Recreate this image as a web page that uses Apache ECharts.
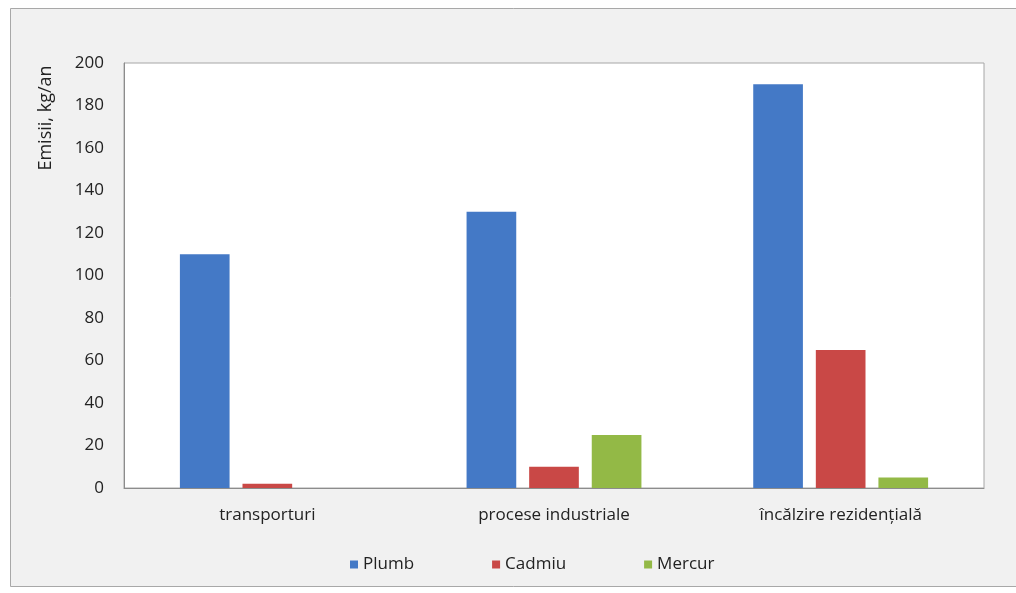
<!DOCTYPE html>
<html>
<head>
<meta charset="utf-8">
<script src="https://cdn.jsdelivr.net/npm/echarts@6/dist/echarts.min.js"></script>
<style>
html,body{margin:0;padding:0;background:#fff;}
#chart{width:1016px;height:593px;}
</style>
</head>
<body>
<div id="chart"></div>
<script>
const categories = ['transporturi', 'procese industriale', 'încălzire rezidențială'];
const seriesNames = ['Plumb', 'Cadmiu', 'Mercur'];
const plumb = [110, 130, 190];
const cadmiu = [2, 10, 65];
const mercur = [0, 25, 5];
const yTicks = [0, 20, 40, 60, 80, 100, 120, 140, 160, 180, 200];
const yAxisTitle = 'Emisii, kg/an';
const colors = ['#4479c6', '#c94846', '#93b946'];

const chart = echarts.init(document.getElementById('chart'), null, {renderer: 'canvas'});
const font = '"Open Sans", "Noto Sans", sans-serif';
const values = [plumb, cadmiu, mercur];

chart.setOption({
  animation: false,
  backgroundColor: '#ffffff',
  color: colors,
  textStyle: {fontFamily: font},
  graphic: [
    {
      type: 'rect', z: -10, silent: true,
      shape: {x: 10.5, y: 8.5, width: 1020, height: 578},
      style: {fill: '#f1f1f1', stroke: '#a8a8a8', lineWidth: 1}
    },
    {
      type: 'text', z: 10, silent: true,
      x: 46, y: 118, rotation: Math.PI / 2,
      style: {
        text: yAxisTitle, font: '18px ' + font, fill: '#222',
        textAlign: 'center', textVerticalAlign: 'middle'
      }
    }
  ],
  grid: {
    left: 124, right: 32, top: 63, bottom: 105,
    show: true, backgroundColor: '#ffffff',
    borderColor: '#a6a6a6', borderWidth: 1
  },
  legend: {
    data: seriesNames,
    left: 345, top: 551,
    itemWidth: 8, itemHeight: 8, itemGap: 78,
    icon: 'rect',
    textStyle: {fontSize: 17, color: '#222', fontFamily: font}
  },
  xAxis: {
    type: 'category',
    data: categories,
    axisLine: {show: true, lineStyle: {color: '#8c8c8c'}},
    axisTick: {show: false},
    axisLabel: {fontSize: 17, color: '#222', margin: 19, fontFamily: font}
  },
  yAxis: {
    type: 'value',
    min: yTicks[0], max: yTicks[yTicks.length - 1], interval: 20,
    axisLine: {show: true, lineStyle: {color: '#8c8c8c'}},
    axisTick: {show: false},
    splitLine: {show: false},
    axisLabel: {fontSize: 17, color: '#222', margin: 20, fontFamily: font}
  },
  series: seriesNames.map((name, i) => ({
    name: name,
    type: 'bar',
    data: values[i],
    barGap: '26%',
    barCategoryGap: '39%',
    itemStyle: {color: colors[i]}
  }))
});
</script>
</body>
</html>
